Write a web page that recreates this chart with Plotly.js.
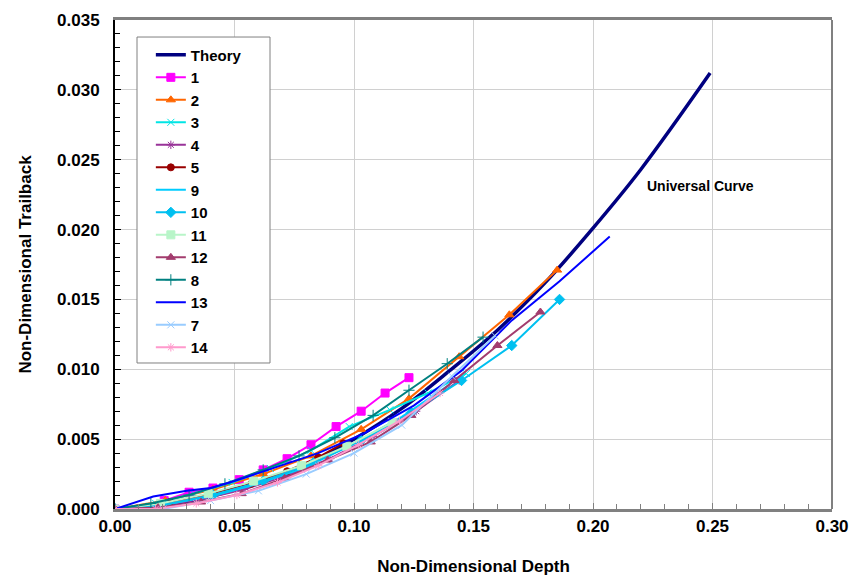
<!DOCTYPE html>
<html>
<head>
<meta charset="utf-8">
<script src="https://cdn.plot.ly/plotly-3.0.1.min.js"></script>
<style>
  html, body { margin: 0; padding: 0; background: #ffffff; }
  #chart { width: 850px; height: 576px; }
</style>
</head>
<body>
<div id="chart"></div>
<script>
// Universal curve (theory)
const theoryX = [0, 0.02, 0.04, 0.06, 0.08, 0.10, 0.12, 0.14, 0.16, 0.18, 0.20, 0.22, 0.249];
const theoryY = [0, 0.0003, 0.0009, 0.0019, 0.0032, 0.0050, 0.0072, 0.0099, 0.0128, 0.0162, 0.0201, 0.0243, 0.0312];

// Measured runs
const run1X = [0, 0.0105, 0.0206, 0.031, 0.041, 0.052, 0.062, 0.072, 0.082, 0.0925, 0.103, 0.113, 0.123];
const run1Y = [0, 0.0000, 0.0006, 0.0012, 0.0015, 0.0021, 0.0028, 0.0036, 0.0046, 0.0059, 0.0070, 0.0083, 0.0094];

const run2X = [0, 0.021, 0.041, 0.062, 0.082, 0.103, 0.123, 0.144, 0.165, 0.185];
const run2Y = [0, 0.0006, 0.0014, 0.0025, 0.0038, 0.0057, 0.0079, 0.0109, 0.0139, 0.0171];

const run3X = [0, 0.017, 0.033, 0.049, 0.065, 0.082, 0.098, 0.115, 0.131, 0.147];
const run3Y = [0, 0.0004, 0.0011, 0.0019, 0.0029, 0.0042, 0.0059, 0.0071, 0.0083, 0.0097];

const run4X = [0, 0.018, 0.036, 0.054, 0.072, 0.090, 0.108, 0.126, 0.144];
const run4Y = [0, 0.0002, 0.0007, 0.0014, 0.0024, 0.0036, 0.0052, 0.0070, 0.0092];

const run5X = [0, 0.023, 0.040, 0.057, 0.072, 0.085, 0.0955];
const run5Y = [0, 0.0005, 0.0011, 0.0018, 0.0027, 0.0037, 0.0047];

const run9X = [0, 0.02, 0.04, 0.06, 0.08, 0.10, 0.12, 0.14];
const run9Y = [0, 0.0003, 0.0009, 0.0018, 0.0030, 0.0047, 0.0066, 0.0089];

const run10X = [0, 0.021, 0.041, 0.062, 0.083, 0.103, 0.124, 0.145, 0.166, 0.186];
const run10Y = [0, 0.0003, 0.0010, 0.0020, 0.0033, 0.0049, 0.0069, 0.0092, 0.0117, 0.0150];

const run11X = [0, 0.019, 0.039, 0.058, 0.078, 0.097, 0.116];
const run11Y = [0, 0.0004, 0.0011, 0.0020, 0.0031, 0.0045, 0.0062];

const run12X = [0, 0.018, 0.036, 0.053, 0.071, 0.089, 0.107, 0.124, 0.142, 0.160, 0.178];
const run12Y = [0, 0.0001, 0.0005, 0.0011, 0.0022, 0.0035, 0.0048, 0.0067, 0.0092, 0.0117, 0.0141];

const run8X = [0, 0.015, 0.031, 0.046, 0.062, 0.077, 0.092, 0.108, 0.123, 0.139, 0.154];
const run8Y = [0, 0.0004, 0.0010, 0.0018, 0.0028, 0.0038, 0.0051, 0.0067, 0.0085, 0.0104, 0.0123];

const run13X = [0, 0.016, 0.030, 0.040, 0.050, 0.069, 0.085, 0.104, 0.125, 0.145, 0.166, 0.186, 0.207];
const run13Y = [0, 0.0009, 0.0013, 0.0015, 0.0020, 0.0031, 0.0040, 0.0054, 0.0074, 0.0099, 0.0135, 0.0163, 0.0195];

const run7X = [0, 0.020, 0.040, 0.060, 0.080, 0.100, 0.120, 0.141, 0.159];
const run7Y = [0, 0.0000, 0.0006, 0.0013, 0.0025, 0.0040, 0.0060, 0.0095, 0.0124];

const run14X = [0, 0.017, 0.034, 0.051, 0.068, 0.085, 0.102, 0.119, 0.136];
const run14Y = [0, 0.0000, 0.0004, 0.0010, 0.0019, 0.0031, 0.0046, 0.0063, 0.0083];

function run(name, x, y, color, symbol, size) {
  const t = {
    type: 'scatter', name: name, x: x, y: y,
    mode: symbol ? 'lines+markers' : 'lines',
    line: { color: color, width: 2 }
  };
  if (symbol) t.marker = { color: color, symbol: symbol, size: size || 7, line: { color: color, width: 1 } };
  return t;
}

const traces = [
  { type: 'scatter', name: 'Theory', x: theoryX, y: theoryY, mode: 'lines',
    line: { color: '#000080', width: 3.5, shape: 'spline' } },
  run('1', run1X, run1Y, '#FF00FF', 'square', 8),
  run('2', run2X, run2Y, '#FF6600', 'triangle-up', 8),
  run('3', run3X, run3Y, '#00E5E5', 'x-thin-open', 7),
  run('4', run4X, run4Y, '#993399', 'asterisk-open', 7),
  run('5', run5X, run5Y, '#990000', 'circle', 7),
  run('9', run9X, run9Y, '#00CCFF', null),
  run('10', run10X, run10Y, '#00C0F0', 'diamond', 8),
  run('11', run11X, run11Y, '#B8F5C8', 'square', 8),
  run('12', run12X, run12Y, '#A33C6E', 'triangle-up', 8),
  run('8', run8X, run8Y, '#008080', 'cross-thin-open', 8),
  run('13', run13X, run13Y, '#0000FF', null),
  run('7', run7X, run7Y, '#99CCFF', 'x-thin-open', 7),
  run('14', run14X, run14Y, '#FF99CC', 'asterisk-open', 7)
];

const FAMILY = 'Arial, "Liberation Sans", sans-serif';
const tickFont = { family: FAMILY, size: 17, color: '#000000', weight: 'bold' };
const titleFont = { family: FAMILY, size: 17, color: '#000000', weight: 'bold' };
const legendFont = { family: FAMILY, size: 15, color: '#000000', weight: 'bold' };

const layout = {
  width: 850, height: 576,
  margin: { l: 115, r: 18, t: 20, b: 67 },
  paper_bgcolor: '#ffffff', plot_bgcolor: '#ffffff',
  showlegend: true,
  legend: {
    x: 0.05, y: 0.962, xanchor: 'left', yanchor: 'top',
    bgcolor: 'rgba(0,0,0,0)', borderwidth: 0,
    font: legendFont, traceorder: 'normal'
  },
  xaxis: {
    range: [0, 0.30], dtick: 0.05, tick0: 0, tickformat: '.2f',
    showgrid: true, gridcolor: '#D0D0D0', gridwidth: 1, zeroline: false,
    showline: true, linecolor: '#808080', linewidth: 3, mirror: true,
    ticks: 'inside', ticklen: 6, tickcolor: '#808080',
    minor: { dtick: 0.01, ticks: 'inside', ticklen: 5, tickcolor: '#808080', showgrid: false },
    tickfont: tickFont,
    title: { text: 'Non-Dimensional Depth', font: titleFont, standoff: 25 }
  },
  yaxis: {
    range: [0, 0.035], dtick: 0.005, tick0: 0, tickformat: '.3f',
    showgrid: true, gridcolor: '#D0D0D0', gridwidth: 1, zeroline: false,
    showline: true, linecolor: '#000000', linewidth: 2,
    ticks: 'inside', ticklen: 6, tickcolor: '#000000',
    minor: { dtick: 0.001, ticks: 'inside', ticklen: 5, tickcolor: '#000000', showgrid: false },
    ticklabelstandoff: 10,
    tickfont: tickFont,
    title: { text: 'Non-Dimensional Trailback', font: titleFont, standoff: 21 }
  },
  shapes: [
    // right frame edge
    { type: 'line', xref: 'paper', yref: 'paper', x0: 1, x1: 1, y0: 0, y1: 1,
      line: { color: '#808080', width: 2 } },
    // legend panel
    { type: 'rect', xref: 'paper', yref: 'paper', layer: 'above',
      x0: 0.0307, x1: 0.2162, y0: 0.2986, y1: 0.9652,
      fillcolor: '#ffffff', line: { color: '#808080', width: 1 } }
  ],
  annotations: [
    { x: 0.2448, y: 0.0231, xref: 'x', yref: 'y', text: 'Universal Curve', showarrow: false,
      font: { family: FAMILY, size: 14, color: '#000000', weight: 'bold' } }
  ]
};

Plotly.newPlot('chart', traces, layout, { displayModeBar: false, staticPlot: true });
</script>
</body>
</html>
